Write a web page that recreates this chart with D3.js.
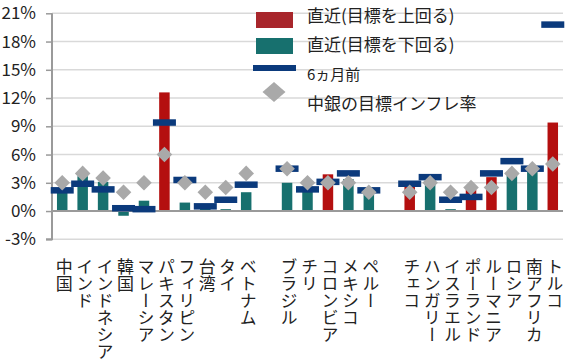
<!DOCTYPE html>
<html><head><meta charset="utf-8">
<script src="https://cdn.jsdelivr.net/npm/d3@7"></script>
<style>
html,body{margin:0;padding:0;background:#fff;}
svg{display:block;font-family:"Noto Sans CJK JP","Noto Sans",sans-serif;}
</style></head><body>
<svg id="c" width="569" height="359"></svg>
<script>
const categories = ["中国","インド","インドネシア","韓国","マレーシア","パキスタン","フィリピン","台湾","タイ","ベトナム","","ブラジル","チリ","コロンビア","メキシコ","ペルー","","チェコ","ハンガリー","イスラエル","ポーランド","ルーマニア","ロシア","南アフリカ","トルコ"];
const recent = [2.3,3.7,3.1,-0.5,1.1,12.6,0.9,0.4,0.2,2.0,null,3.0,2.5,3.9,3.4,2.1,null,2.6,3.3,0.2,2.3,3.6,3.8,4.2,9.4];
const aboveTarget = [0,0,0,0,0,1,0,0,0,0,null,0,0,1,0,0,null,1,0,0,1,1,0,0,1];
const sixMonthsAgo = [2.2,2.9,2.3,0.3,0.2,9.4,3.3,0.5,1.2,2.8,null,4.5,2.3,3.1,4.0,2.2,null,2.9,3.6,1.2,1.5,4.0,5.3,4.5,19.8];
const target = [3.0,4.0,3.5,2.0,3.0,6.0,3.0,2.0,2.5,4.0,null,4.5,3.0,3.0,3.0,2.0,null,2.0,3.0,2.0,2.5,2.5,4.0,4.5,5.0];
const yTicks = [-3,0,3,6,9,12,15,18,21];
const yTickLabels = ["-3%","0%","3%","6%","9%","12%","15%","18%","21%"];
const legendLabels = ["直近(目標を上回る)","直近(目標を下回る)","6ヵ月前","中銀の目標インフレ率"];

const colors = {above:"#b40f0f", below:"#17706e", prev:"#0b3a7c", target:"#a9a9a9", legendRed:"#a8262b"};

const svg = d3.select("#c");
const L = 52, R = 563;
const x = d3.scaleBand().domain(d3.range(categories.length)).range([L, R]).paddingInner(0).paddingOuter(0);
const y = d3.scaleLinear().domain([-3, 21]).range([239.3, 13.3]);

// gridlines
svg.append("g").selectAll("line").data(yTicks.filter(d=>d!==0)).join("line")
  .attr("x1", L).attr("x2", R).attr("y1", d=>y(d)).attr("y2", d=>y(d))
  .attr("stroke", "#d9d9d9").attr("stroke-width", 1.5);

// y axis
const yAxis = d3.axisLeft(y).tickValues(yTicks).tickSize(6).tickPadding(10)
  .tickFormat((d,i)=>yTickLabels[i]);
const gy = svg.append("g").attr("transform", `translate(${L},0)`).call(yAxis);
gy.select(".domain").attr("stroke", "#9a9a9a").attr("stroke-width", 2).attr("d", `M-6,${y(-3)}H0V${y(21)}`);
gy.selectAll(".tick line").attr("stroke", "#9a9a9a").attr("stroke-width", 1.5);
gy.selectAll(".tick text").attr("font-size", 17).attr("fill", "#222")
  .attr("font-family", '"Noto Sans CJK JP",sans-serif');

const bw = 10.5;
const idx = d3.range(categories.length);

// bars
svg.append("g").selectAll("rect").data(idx.filter(i=>recent[i]!==null)).join("rect")
  .attr("x", i=>x(i)+x.bandwidth()/2-bw/2)
  .attr("width", bw)
  .attr("y", i=>y(Math.max(0, recent[i])))
  .attr("height", i=>Math.abs(y(recent[i])-y(0)))
  .attr("fill", i=>aboveTarget[i] ? colors.above : colors.below);

// zero line
svg.append("line").attr("x1", L).attr("x2", R).attr("y1", y(0)).attr("y2", y(0))
  .attr("stroke", "#9a9a9a").attr("stroke-width", 2);

// 6 months ago markers
const mw = 23, mh = 6.5;
svg.append("g").selectAll("rect").data(idx.filter(i=>sixMonthsAgo[i]!==null)).join("rect")
  .attr("x", i=>x(i)+x.bandwidth()/2-mw/2)
  .attr("y", i=>y(sixMonthsAgo[i])-mh/2)
  .attr("width", mw).attr("height", mh)
  .attr("fill", colors.prev);

// target diamonds
const dr = 7.8;
svg.append("g").selectAll("path").data(idx.filter(i=>target[i]!==null)).join("path")
  .attr("d", i=>{const cx=x(i)+x.bandwidth()/2, cy=y(target[i]);
    return `M${cx},${cy-dr}L${cx+dr},${cy}L${cx},${cy+dr}L${cx-dr},${cy}Z`;})
  .attr("fill", colors.target);

// x labels (vertical)
svg.append("g").selectAll("text").data(idx.filter(i=>categories[i]!=="")).join("text")
  .attr("x", i=>x(i)+x.bandwidth()/2+2)
  .attr("y", 258)
  .attr("font-size", 17)
  .attr("fill", "#222")
  .style("writing-mode", "vertical-rl")
  .text(i=>categories[i]);

// legend
const lg = svg.append("g");
lg.append("rect").attr("x",256).attr("y",12).attr("width",37).attr("height",16).attr("fill",colors.legendRed);
lg.append("rect").attr("x",256).attr("y",38).attr("width",37).attr("height",16).attr("fill",colors.below);
lg.append("rect").attr("x",253).attr("y",65).attr("width",43).attr("height",6).attr("fill",colors.prev);
lg.append("path").attr("d","M274,82L285.5,92L274,102L262.5,92Z").attr("fill",colors.target);
const ly = [16,45.5,75,104];
const lfs = [17,17,15,17];
lg.selectAll("text").data(legendLabels).join("text")
  .attr("x",307).attr("y",(d,i)=>ly[i]).attr("dy","0.35em")
  .attr("font-size",(d,i)=>lfs[i]).attr("fill","#222")
  .text(d=>d);
</script>
</body></html>
